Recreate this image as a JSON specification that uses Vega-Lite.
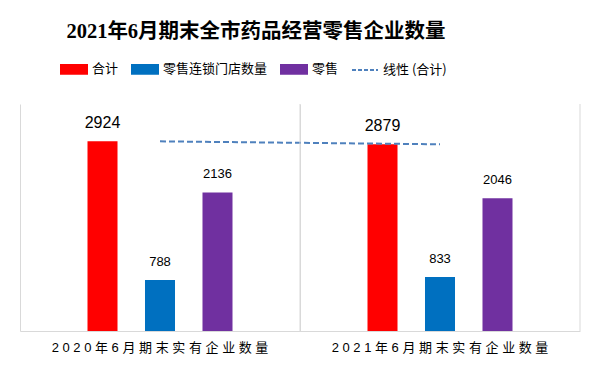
{
  "$schema": "https://vega.github.io/schema/vega-lite/v6.json",
  "autosize": {"type": "none"},
  "padding": {"left": 20, "top": 104, "right": 19, "bottom": 35},
  "width": 560,
  "height": 227,
  "background": "white",
  "title": {
    "text": "2021年6月期末全市药品经营零售企业数量",
    "font": "Liberation Serif, Noto Sans CJK SC",
    "fontSize": 20.5,
    "fontWeight": "bold",
    "color": "#000000",
    "anchor": "middle",
    "dx": -44,
    "offset": 13
  },
  "data": {
    "values": [
      {"category": "2020年6月期末实有企业数量", "series": "合计", "value": 2924},
      {"category": "2020年6月期末实有企业数量", "series": "零售连锁门店数量", "value": 788},
      {"category": "2020年6月期末实有企业数量", "series": "零售", "value": 2136},
      {"category": "2021年6月期末实有企业数量", "series": "合计", "value": 2879},
      {"category": "2021年6月期末实有企业数量", "series": "零售连锁门店数量", "value": 833},
      {"category": "2021年6月期末实有企业数量", "series": "零售", "value": 2046}
    ]
  },
  "encoding": {
    "x": {
      "field": "category",
      "type": "nominal",
      "sort": null,
      "title": null,
      "scale": {"paddingInner": 0, "paddingOuter": 0},
      "axis": {
        "labelAngle": 0,
        "ticks": false,
        "grid": true,
        "bandPosition": 0,
        "gridColor": "#D9D9D9",
        "gridWidth": 1,
        "domainColor": "#D9D9D9",
        "domainWidth": 1,
        "labelFont": "Liberation Sans, Noto Sans CJK SC",
        "labelFontSize": 13,
        "labelColor": "#000000",
        "labelPadding": 10,
        "labelLimit": 400,
        "labelExpr": "join(split(datum.label, ''), ' ')"
      }
    },
    "y": {
      "field": "value",
      "type": "quantitative",
      "stack": null,
      "scale": {"domain": [0, 3500]},
      "axis": null
    }
  },
  "layer": [
    {
      "mark": {"type": "bar"},
      "encoding": {
        "xOffset": {
          "field": "series",
          "type": "nominal",
          "scale": {"domain": ["_l", "合计", "零售连锁门店数量", "零售", "_r"], "paddingInner": 0.478, "paddingOuter": 0.174}
        },
        "color": {
          "field": "series",
          "type": "nominal",
          "scale": {
            "domain": ["合计", "零售连锁门店数量", "零售", "线性 (合计)"],
            "range": ["#FF0000", "#0070C0", "#7030A0", "#4F81BD"]
          },
          "legend": {
            "title": null,
            "orient": "none",
            "legendX": 40,
            "legendY": -49,
            "direction": "horizontal",
            "columns": 4,
            "columnPadding": 9,
            "symbolSize": 676,
            "symbolType": "M-1,-0.33H1V0.33H-1Z",
            "labelFont": "Noto Sans CJK SC",
            "labelFontSize": 13,
            "labelColor": "#000000",
            "labelOffset": 4,
            "labelLimit": 300,
            "encode": {
              "symbols": {
                "update": {
                  "shape": [
                    {"test": "datum.value === '线性 (合计)'", "value": "M-1,0H1"},
                    {"value": "M-1,-0.33H1V0.33H-1Z"}
                  ],
                  "fill": [
                    {"test": "datum.value === '线性 (合计)'", "value": "transparent"},
                    {"scale": "color", "field": "value"}
                  ],
                  "stroke": [
                    {"test": "datum.value === '线性 (合计)'", "value": "#4F81BD"},
                    {"value": "transparent"}
                  ],
                  "strokeDash": [
                    {"test": "datum.value === '线性 (合计)'", "value": [4, 2]},
                    {"value": []}
                  ],
                  "strokeWidth": {"value": 2},
                  "opacity": {"value": 1}
                }
              }
            }
          }
        }
      }
    },
    {
      "mark": {"type": "text", "baseline": "middle", "dy": -18, "font": "Liberation Sans", "color": "#000000"},
      "encoding": {
        "xOffset": {
          "field": "series",
          "type": "nominal",
          "scale": {"domain": ["_l", "合计", "零售连锁门店数量", "零售", "_r"], "paddingInner": 0.478, "paddingOuter": 0.174}
        },
        "text": {"field": "value", "type": "quantitative", "format": "d"},
        "size": {"condition": {"test": "datum.series === '合计'", "value": 16}, "value": 13}
      }
    },
    {
      "transform": [{"filter": "datum.series === '合计'"}],
      "mark": {"type": "line", "strokeDash": [6, 3], "strokeWidth": 2},
      "encoding": {
        "color": {"datum": "线性 (合计)"}
      }
    },
    {
      "transform": [{"filter": "datum.series === '合计'"}],
      "mark": {"type": "rule", "color": "#D9D9D9", "strokeWidth": 1},
      "encoding": {
        "x": {"field": "category", "type": "nominal", "sort": null, "bandPosition": 1},
        "y": null
      }
    }
  ],
  "config": {
    "view": {"stroke": null}
  }
}
